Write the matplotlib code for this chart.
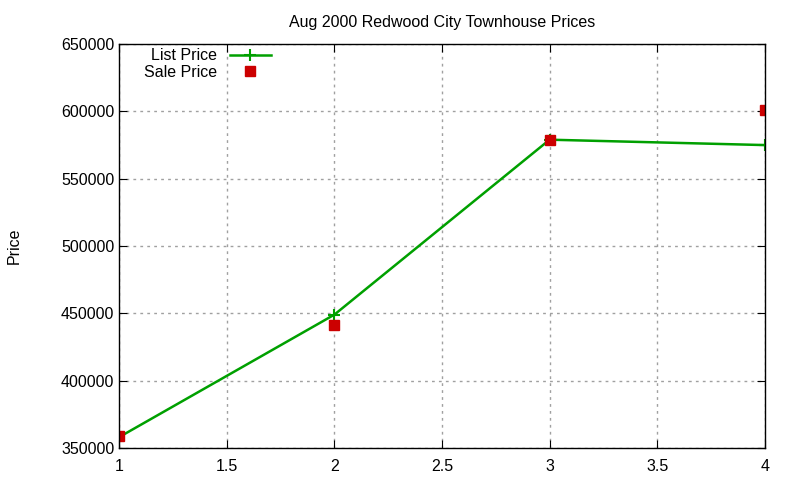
import numpy as np
import matplotlib.pyplot as plt

plt.rcParams['font.family'] = ['Liberation Sans', 'DejaVu Sans']

x = [1, 2, 3, 4]
list_price = [358000, 449000, 579000, 575000]
sale_price = [359000, 441000, 579000, 601000]

fig = plt.figure(figsize=(8, 4.8), dpi=100)
ax = fig.add_axes([0.149, 0.067, 0.807, 0.841])

ax.plot(x, list_price, color='#00a000', lw=1.8, marker='+', ms=9, mew=1.5,
        label='List Price')
ax.plot(x, sale_price, ls='none', marker='s', color='#cc0000', ms=7,
        label='Sale Price')

ax.set_xlim(1, 4)
ax.set_ylim(350000, 650000)
ax.set_xticks(np.arange(1, 4.01, 0.5))
ax.set_xticklabels(['1', '1.5', '2', '2.5', '3', '3.5', '4'])
ax.set_yticks(np.arange(350000, 650001, 50000))
ax.grid(True, color='#a0a0a0', ls=(0, (2, 3)), lw=1)
ax.tick_params(direction='in', top=True, right=True, labelsize=11.5, length=6)
ax.tick_params(axis='x', pad=8)
for s in ax.spines.values():
    s.set_linewidth(1)

ax.set_title('Aug 2000 Redwood City Townhouse Prices', fontsize=11.5, pad=12)
ax.set_ylabel('Price', fontsize=11.5, labelpad=28)

leg = ax.legend(loc='upper left', markerfirst=False, frameon=False,
                fontsize=11.5, handlelength=2.6, borderaxespad=0.0,
                labelspacing=0.1, bbox_to_anchor=(0.028, 1.006))
for t in leg.get_texts():
    t.set_ha('right')

fig.savefig('out.png', dpi=100)
